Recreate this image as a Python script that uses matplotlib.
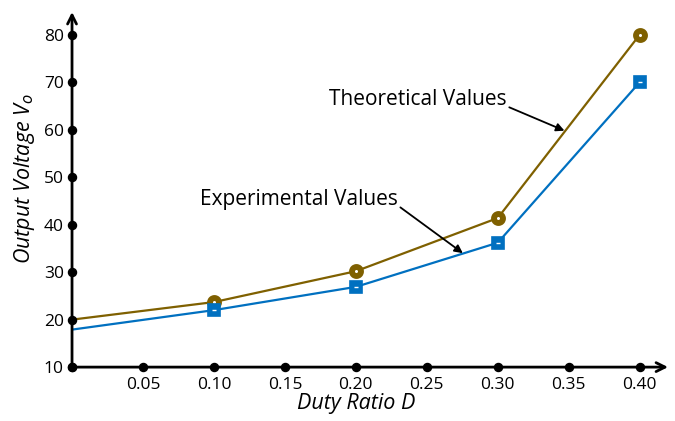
import matplotlib
matplotlib.use('Agg')
from matplotlib import pyplot as plt

# duty ratio vs output voltage
duty = [0.0, 0.10, 0.20, 0.30, 0.40]
v_theory = [20.0, 23.7, 30.2, 41.4, 80.0]
v_exper = [17.9, 22.0, 26.9, 36.2, 70.0]

x_ticks = [0.05, 0.10, 0.15, 0.20, 0.25, 0.30, 0.35, 0.40]
x_labels = ['0.05', '0.10', '0.15', '0.20', '0.25', '0.30', '0.35', '0.40']
y_ticks = [10, 20, 30, 40, 50, 60, 70, 80]

brown = '#7f6000'
blue = '#0070c0'

plt.rcParams['font.family'] = ['Open Sans', 'DejaVu Sans']

fig = plt.figure(figsize=(6.75, 4.21), dpi=100)
ax = fig.add_axes([0.1067, 0.128, 0.883, 0.8435])
ax.set_xlim(0, 0.42)
ax.set_ylim(10, 84.8)

# lines, markers only from 0.1 on
ax.plot(duty, v_theory, color=brown, lw=1.6, zorder=3)
ax.plot(duty[1:], v_theory[1:], ls='none', marker='o', ms=6.5, mfc='white',
        mec=brown, mew=4.2, zorder=4)
ax.plot(duty, v_exper, color=blue, lw=1.6, zorder=3)
ax.plot(duty[1:], v_exper[1:], ls='none', marker='s', ms=9, mfc=blue,
        mec=blue, mew=1.2, zorder=4)
ax.plot(duty[1:], v_exper[1:], ls='none', marker='_', ms=3, mec='white',
        mew=1.0, zorder=5)

# axes drawn as arrows with dots at the ticks
for s in ax.spines.values():
    s.set_visible(False)
ax.annotate('', xy=(1.0, 0), xytext=(0, 0), xycoords='axes fraction',
            arrowprops=dict(arrowstyle='->', lw=2, color='black',
                            shrinkA=0, shrinkB=0, mutation_scale=16))
ax.annotate('', xy=(0, 1.0), xytext=(0, 0), xycoords='axes fraction',
            arrowprops=dict(arrowstyle='->', lw=2, color='black',
                            shrinkA=0, shrinkB=0, mutation_scale=16))
ax.plot([0] + x_ticks, [10] * (len(x_ticks) + 1), ls='none', marker='o',
        ms=5.8, color='black', clip_on=False, zorder=6)
ax.plot([0] * len(y_ticks), y_ticks, ls='none', marker='o', ms=5.8,
        color='black', clip_on=False, zorder=6)

ax.set_xticks(x_ticks)
ax.set_xticklabels(x_labels)
ax.set_yticks(y_ticks)
ax.tick_params(length=0, labelsize=12.5)
ax.tick_params(axis='x', pad=7)
ax.tick_params(axis='y', pad=6)

ax.set_xlabel('Duty Ratio D', fontsize=15.5, style='italic', labelpad=0)
ax.xaxis.label.set_x(0.477)
ax.set_ylabel('Output Voltage V$_o$', fontsize=15.5, style='italic')
ax.yaxis.set_label_coords(-0.058, 0.532)

ax.annotate('Theoretical Values', xy=(0.347, 59.8), xytext=(0.181, 66.3),
            fontsize=15, va='center',
            arrowprops=dict(arrowstyle='-|>', lw=1.3, color='black',
                            shrinkA=0, shrinkB=0, mutation_scale=12,
                            relpos=(1.0, 0.2)))
ax.annotate('Experimental Values', xy=(0.2754, 34.0), xytext=(0.090, 45.4),
            fontsize=15, va='center',
            arrowprops=dict(arrowstyle='-|>', lw=1.3, color='black',
                            shrinkA=0, shrinkB=0, mutation_scale=12,
                            relpos=(1.0, 0.2)))

fig.savefig('out.png', dpi=100)
